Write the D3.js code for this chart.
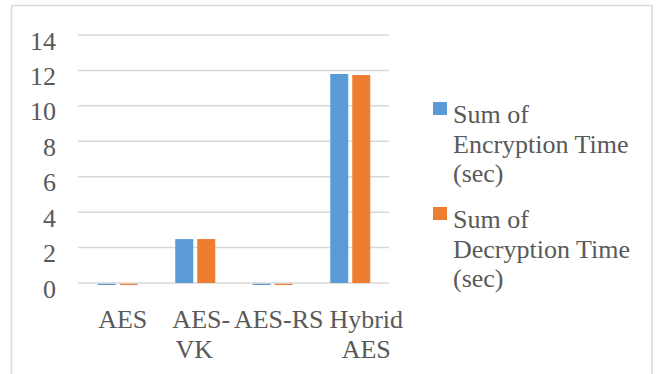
<!DOCTYPE html>
<html>
<head>
<meta charset="utf-8">
<script src="https://cdn.jsdelivr.net/npm/d3@7/dist/d3.min.js"></script>
<style>
  html, body { margin: 0; padding: 0; background: #fff; }
  svg { display: block; }
  text { font-family: "Liberation Serif", "Times New Roman", serif; fill: #595959; }
</style>
</head>
<body>
<svg id="chart" width="656" height="374"></svg>
<script>
// Category labels (wrapped onto lines as shown under the axis)
const categories = ["AES", "AES-VK", "AES-RS", "Hybrid AES"];
const categoryLines = [["AES"], ["AES-", "VK"], ["AES-RS"], ["Hybrid", "AES"]];

// Series
const seriesNames = ["Sum of Encryption Time (sec)", "Sum of Decryption Time (sec)"];
const seriesLegendLines = [["Sum of", "Encryption Time", "(sec)"], ["Sum of", "Decryption Time", "(sec)"]];
const encryptionTime = [-0.07, 2.48, -0.07, 11.80];
const decryptionTime = [-0.07, 2.48, -0.07, 11.74];
const seriesColors = ["#5B9BD5", "#ED7D31"];

// Axis ticks
const yTicks = [0, 2, 4, 6, 8, 10, 12, 14];

const svg = d3.select("#chart");

// Outer frame (bottom edge runs off the canvas)
svg.append("rect")
  .attr("x", 11.5).attr("y", 5.5)
  .attr("width", 640.5).attr("height", 380)
  .attr("fill", "none").attr("stroke", "#d9d9d9").attr("stroke-width", 1.5);

const plot = { left: 79, right: 389, top: 35, bottom: 283 };

const x0 = d3.scaleBand().domain(categories).range([plot.left, plot.right]).paddingInner(0).paddingOuter(0);
const x1 = d3.scaleBand().domain(seriesNames).range([-20, 20]).paddingInner(4 / 22);
const y = d3.scaleLinear().domain([0, 14]).range([plot.bottom, plot.top]);

// Gridlines
svg.append("g").selectAll("line").data(yTicks).join("line")
  .attr("x1", plot.left - 1).attr("x2", plot.right)
  .attr("y1", d => y(d)).attr("y2", d => y(d))
  .attr("stroke", "#d9d9d9").attr("stroke-width", 1.5);

// Y tick labels
svg.append("g").selectAll("text").data(yTicks).join("text")
  .attr("x", 56).attr("y", d => y(d) + 14.5)
  .attr("text-anchor", "end")
  .attr("font-size", 26)
  .text(d => d);

// Bars
const seriesValues = [encryptionTime, decryptionTime];
const rows = [];
categories.forEach((c, i) => {
  seriesNames.forEach((s, j) => rows.push({ cat: c, series: s, value: seriesValues[j][i], color: seriesColors[j] }));
});
svg.append("g").selectAll("rect").data(rows).join("rect")
  .attr("x", d => x0(d.cat) + x0.bandwidth() / 2 + x1(d.series))
  .attr("width", x1.bandwidth())
  .attr("y", d => Math.min(y(d.value), y(0)) + (d.value < 0 ? 0.8 : 0))
  .attr("height", d => Math.abs(y(d.value) - y(0)))
  .attr("fill", d => d.color);

// Category labels (nudged the way the wrapped text sits under each group)
const labelNudge = [5, -1, 6, 16];
const catG = svg.append("g");
categories.forEach((c, i) => {
  const cx = x0(c) + x0.bandwidth() / 2 + labelNudge[i];
  categoryLines[i].forEach((line, k) => {
    catG.append("text")
      .attr("x", cx + (line === "AES-" ? 7 : 0)).attr("y", 328 + k * 30)
      .attr("text-anchor", "middle")
      .attr("font-size", 26)
      .text(line);
  });
});

// Legend
const legend = svg.append("g");
seriesNames.forEach((s, j) => {
  const top = 102 + j * 105;
  legend.append("rect")
    .attr("x", 433).attr("y", top)
    .attr("width", 14).attr("height", 13)
    .attr("fill", seriesColors[j]);
  seriesLegendLines[j].forEach((line, k) => {
    legend.append("text")
      .attr("x", 453).attr("y", top + 21 + k * 29.5)
      .attr("font-size", 26)
      .text(line);
  });
});
</script>
</body>
</html>
